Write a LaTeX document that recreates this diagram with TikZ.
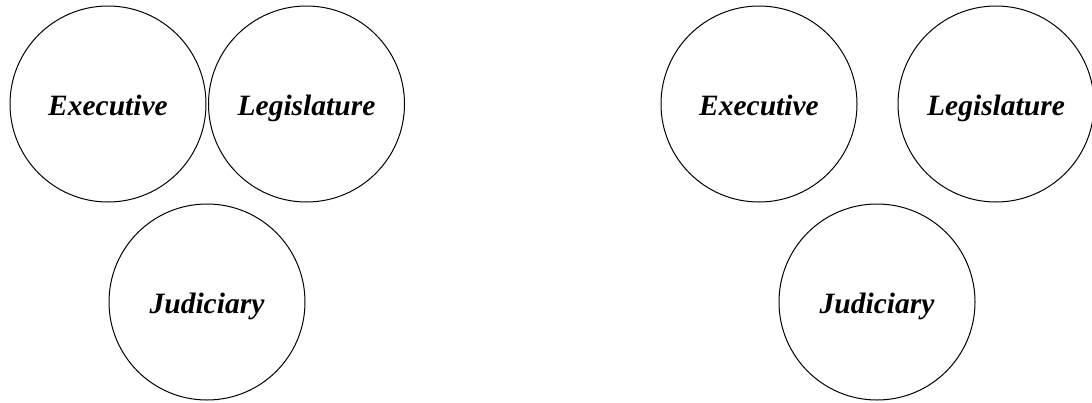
\documentclass[tikz,border=0pt]{standalone}
\usepackage{fontspec}
\setmainfont{Liberation Serif}

\begin{document}
\begin{tikzpicture}[x=1pt,y=-1pt]
\tikzstyle{branch}=[draw=black, circle, line width=1pt, minimum size=196pt, inner sep=0pt, text height=28pt, text depth=6pt, font=\fontsize{29.5}{35}\selectfont\bfseries\itshape]
\useasboundingbox (0,0) rectangle (1092,402);
% touching circles
\node [branch] (exe1) at (108,104) {Executive};
\node [branch] (leg1) at (306.5,104) {Legislature};
\node [branch] (jud1) at (207,302) {Judiciary};
% separated circles
\node [branch] (exe2) at (759,104) {Executive};
\node [branch] (leg2) at (996,104) {Legislature};
\node [branch] (jud2) at (877,302) {Judiciary};
\end{tikzpicture}
\end{document}
